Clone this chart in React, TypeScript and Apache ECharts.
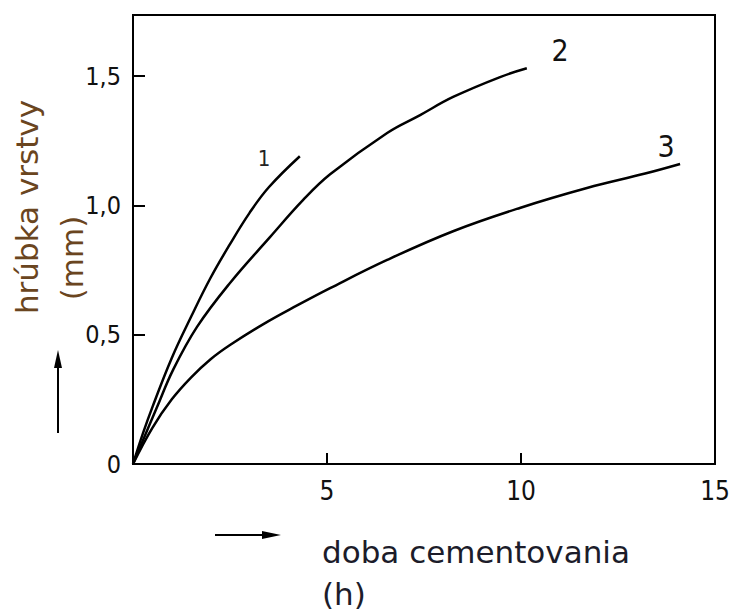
import React, { useEffect, useRef } from "react";
import * as echarts from "echarts";

// Curve 1
const curve1X = [0, 0.26, 0.5, 1.0, 1.5, 2.0, 2.5, 3.0, 3.5, 4.3];
const curve1Y = [0, 0.12, 0.22, 0.41, 0.57, 0.72, 0.85, 0.97, 1.07, 1.19];
// Curve 2
const curve2X = [0, 0.26, 0.62, 1.03, 1.65, 2.5, 3.53, 4.38, 5.08, 6.55, 7.4, 8.25, 9.46, 10.15];
const curve2Y = [0, 0.093, 0.22, 0.363, 0.53, 0.7, 0.877, 1.02, 1.12, 1.28, 1.349, 1.419, 1.496, 1.53];
// Curve 3
const curve3X = [0, 0.5, 1.0, 1.5, 2.0, 2.5, 3.35, 4.23, 5.08, 6.55, 8.25, 9.97, 11.7, 13.2, 14.1];
const curve3Y = [0, 0.14, 0.25, 0.335, 0.405, 0.46, 0.54, 0.613, 0.68, 0.789, 0.9, 0.99, 1.067, 1.123, 1.16];

const curveNames = ["1", "2", "3"];
const xTicks = [0, 5, 10, 15];
const yTicks = [0, 0.5, 1.0, 1.5];
const yTitle = "hrúbka vrstvy";
const yUnit = "(mm)";
const xTitle = "doba cementovania";
const xUnit = "(h)";

const toPairs = (xs: number[], ys: number[]) => xs.map((x, i) => [x, ys[i]]);

export default function App() {
  const ref = useRef<HTMLDivElement>(null);
  useEffect(() => {
    if (!ref.current) return;
    const chart = echarts.init(ref.current, null, { renderer: "svg" });
    const lineStyle = { color: "#000", width: 2.5 };
    const numFont = "'Liberation Sans Narrow', 'DejaVu Sans Condensed', 'Liberation Sans', sans-serif";
    const titleFont = "'DejaVu Sans', sans-serif";
    const fmtY = (v: number) => {
      const hit = yTicks.find((t) => Math.abs(t - v) < 1e-6);
      if (hit === undefined) return "";
      return hit === 0 ? "0" : hit.toFixed(1).replace(".", ",");
    };
    const fmtX = (v: number) => {
      const hit = xTicks.find((t) => Math.abs(t - v) < 1e-6);
      if (hit === undefined || hit === 0) return "";
      return String(hit);
    };
    chart.setOption({
      animation: false,
      backgroundColor: "#fff",
      grid: {
        left: 133,
        top: 15,
        width: 582,
        height: 449,
        show: true,
        borderColor: "#000",
        borderWidth: 2,
      },
      xAxis: {
        type: "value",
        min: 0,
        max: 15,
        interval: 5,
        axisLine: { show: true, lineStyle: { color: "#000", width: 2 } },
        axisTick: { show: true, inside: true, length: 11, lineStyle: { color: "#000", width: 2 } },
        splitLine: { show: false },
        axisLabel: {
          formatter: fmtX,
          color: "#111",
          fontSize: 26,
          fontFamily: numFont,
          margin: 14,
          showMinLabel: false,
        },
      },
      yAxis: {
        type: "value",
        min: 0,
        max: 1.736,
        interval: 0.5,
        axisLine: { show: true, lineStyle: { color: "#000", width: 2 } },
        axisTick: { show: true, inside: true, length: 12, lineStyle: { color: "#000", width: 2 } },
        splitLine: { show: false },
        axisLabel: {
          formatter: fmtY,
          color: "#111",
          fontSize: 25,
          fontFamily: numFont,
          margin: 12,
          padding: [12, 0, 0, 0],
          showMaxLabel: false,
        },
      },
      series: [
        { type: "line", name: curveNames[0], data: toPairs(curve1X, curve1Y), smooth: 0.4, showSymbol: false, lineStyle },
        { type: "line", name: curveNames[1], data: toPairs(curve2X, curve2Y), smooth: 0.4, showSymbol: false, lineStyle },
        { type: "line", name: curveNames[2], data: toPairs(curve3X, curve3Y), smooth: 0.4, showSymbol: false, lineStyle },
      ],
      graphic: [
        { type: "text", x: 264, y: 158, style: { text: curveNames[0], font: `22px ${numFont}`, fill: "#222", align: "center", verticalAlign: "middle" } },
        { type: "text", x: 560, y: 50, style: { text: curveNames[1], font: `30px ${numFont}`, fill: "#111", align: "center", verticalAlign: "middle" } },
        { type: "text", x: 666, y: 146, style: { text: curveNames[2], font: `30px ${numFont}`, fill: "#111", align: "center", verticalAlign: "middle" } },
        { type: "text", x: 27, y: 207, rotation: Math.PI / 2, style: { text: yTitle, font: `31px ${titleFont}`, fill: "#6a4520", align: "center", verticalAlign: "middle" } },
        { type: "text", x: 72, y: 258, rotation: Math.PI / 2, style: { text: yUnit, font: `31px ${titleFont}`, fill: "#6a4520", align: "center", verticalAlign: "middle" } },
        { type: "text", x: 322, y: 552, style: { text: xTitle, font: `31px ${titleFont}`, fill: "#1c1c2a", align: "left", verticalAlign: "middle" } },
        { type: "text", x: 322, y: 594, style: { text: xUnit, font: `31px ${titleFont}`, fill: "#1c1c2a", align: "left", verticalAlign: "middle" } },
        { type: "line", shape: { x1: 58, y1: 433, x2: 58, y2: 360 }, style: { stroke: "#000", lineWidth: 2 } },
        { type: "polygon", shape: { points: [[58, 350], [54, 368], [62, 368]] }, style: { fill: "#000" } },
        { type: "line", shape: { x1: 215, y1: 535, x2: 272, y2: 535 }, style: { stroke: "#000", lineWidth: 2 } },
        { type: "polygon", shape: { points: [[281, 535], [262, 531], [262, 539]] }, style: { fill: "#000" } },
      ],
    });
    return () => chart.dispose();
  }, []);
  return <div ref={ref} style={{ width: 734, height: 613, position: "absolute", left: 0, top: 0 }} />;
}
